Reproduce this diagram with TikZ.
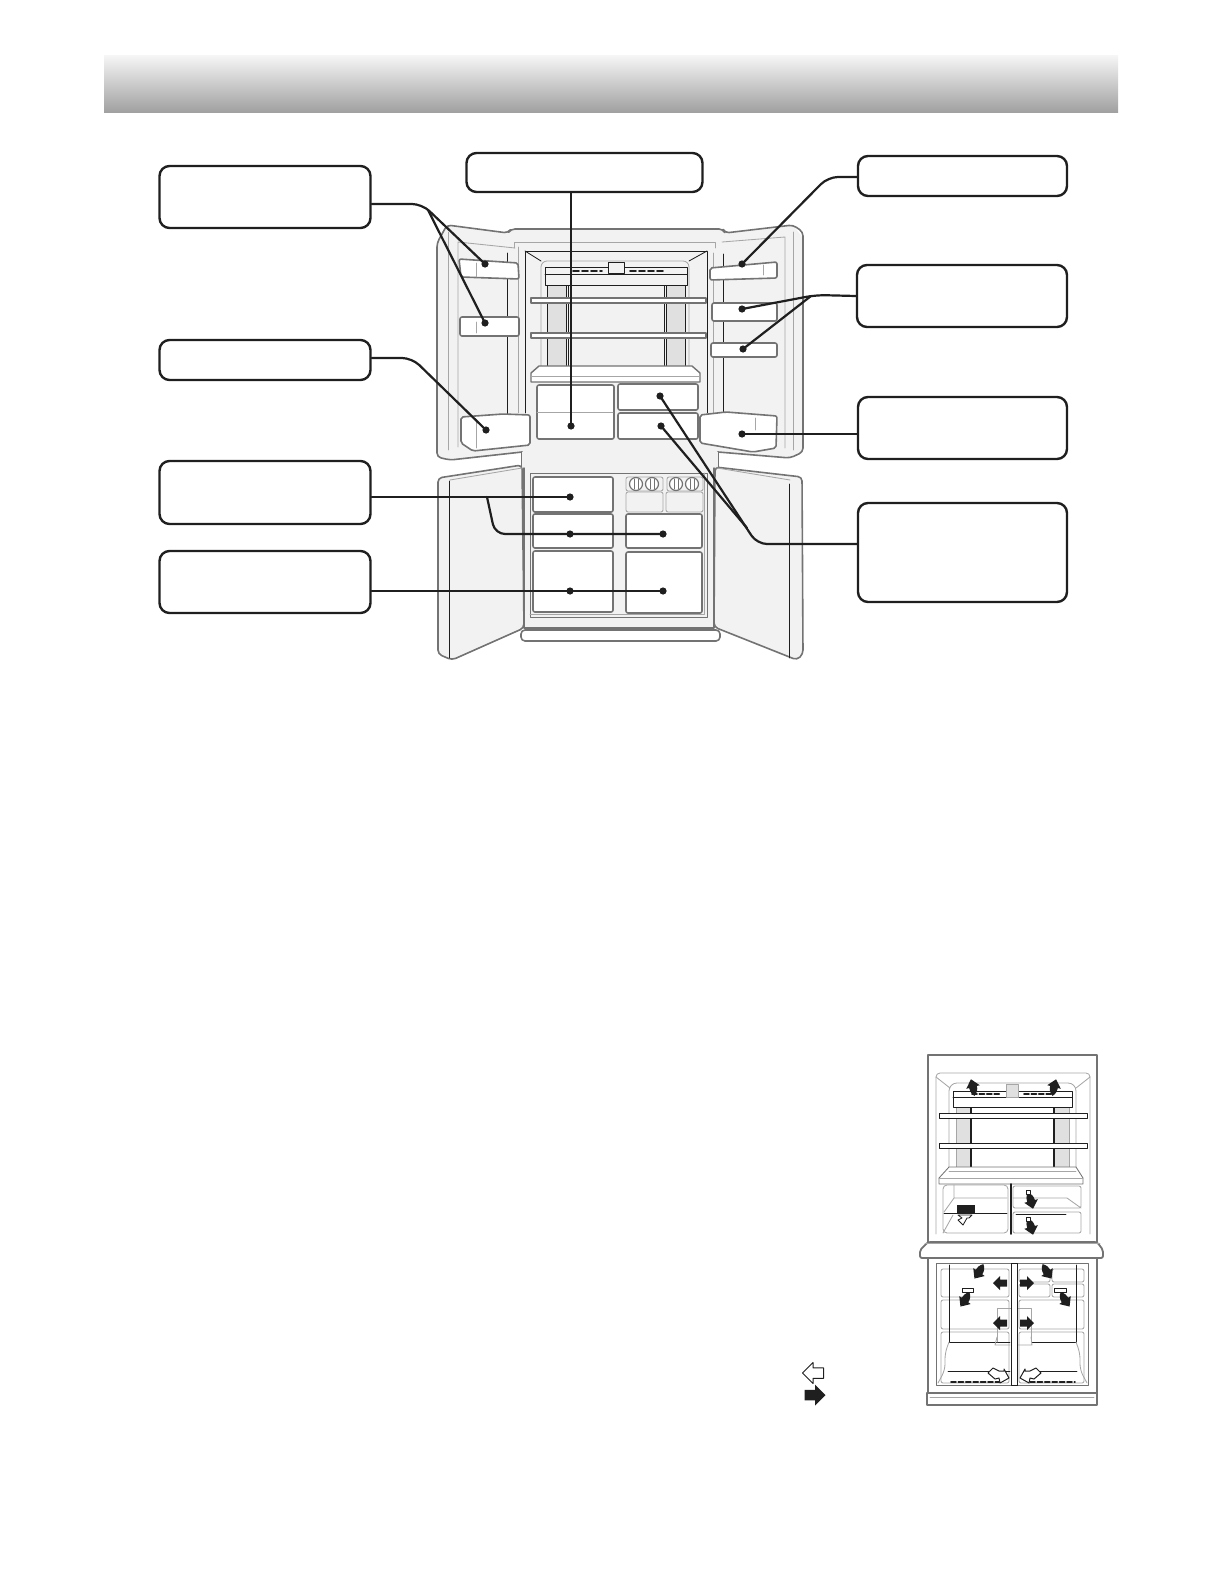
\documentclass[tikz,border=0pt]{standalone}
\definecolor{linegray}{gray}{.45}
\definecolor{bodygray}{gray}{.95}
\definecolor{columngray}{gray}{.88}
\definecolor{inkblack}{gray}{.12}
\tikzset{
	calloutbox/.style={draw=inkblack, line width=1.2pt, rounded corners=5pt, fill=white, minimum width=105.5pt, inner sep=0pt},
	leader/.style={draw=inkblack, line width=1.1pt, rounded corners=5pt},
	shell/.style={draw=linegray, line width=.8pt, fill=bodygray, rounded corners=2pt},
	bin/.style={draw=linegray, line width=.8pt, fill=white, rounded corners=1pt},
	thin part/.style={draw=inkblack, line width=.42pt},
	faint part/.style={draw=gray!70, line width=.42pt},
	airflow/.pic={\path[pic actions] (-7,-3.5)--(0,-3.5)--(0,-7)--(7,0)--(0,7)--(0,3.5)--(-7,3.5)--cycle;},
	airbend/.pic={\path[pic actions] (-9,-1) .. controls (-5,-4) and (-3,-4) .. (0,-4)--(0,-7)--(8,0)--(0,7)--(0,4) .. controls (-4,4) and (-7,2) .. (-9,-1)--cycle;},
	airturn/.pic={\path[pic actions] (-11,-2)--(-6,-7)--(0,-4)--(5,-4)--(5,-6)--(10,3)--(1,8)--(0,3)--(-4,4)--cycle;}
}
\begin{document}
\begin{tikzpicture}[x=.5pt, y=-.5pt, line join=round, line cap=round]
	\useasboundingbox (0,0) rectangle (1224,1584);
	% title bar
	\shade[top color=gray!8, middle color=gray!32, bottom color=gray!75] (104,56) rectangle (1118,113);
	
	% upper doors and cabinet
	\fill[bodygray] (437,457)--(437,243)--(447,225)--(508,233)--(511,229)--(723,229)--(725,233)--(793,225)--(803,238)--(803,452)--(790,458)--(718,452)--(718,470)--(522,470)--(522,452)--(450,460)--cycle;
	\draw[shell, fill=none] (522,452)--(450,460)--(437,457)--(437,243)--(447,225)--(508,233)--(511,229)--(723,229)--(725,233)--(793,225)--(803,232)--(803,452)--(790,458)--(718,452);
	\draw[faint part] (458,447)--(458,242)--(515,248) (785,448)--(785,237)--(722,242);
	\draw[faint part] (448,232)--(448,450) (793,232)--(793,450) (514,248)--(514,242)--(715,242)--(715,248);
	\draw[faint part] (518,247)--(518,413) (713,253)--(713,420);
	\draw[thin part] (507,253)--(507,417) (723,254)--(723,418);
	\draw[thin part] (525,413)--(525,251)--(707,251)--(707,413);
	\draw[faint part, rounded corners=3pt] (541,366)--(541,261)--(689,261)--(689,366);
	\draw[thin part] (525,251)--(541,261) (707,251)--(689,261);
	\draw[draw=linegray, line width=.6pt] (522,452)--(522,470) (718,452)--(718,470);
	% columns, top unit and shelves
	\draw[thin part, fill=columngray] (547,285) rectangle (566,366);
	\draw[thin part, fill=columngray] (666,285) rectangle (685,366);
	\draw[thin part] (568,285)--(568,366)--(664,366)--(664,285);
	\draw[thin part, fill=bodygray] (545,267) rectangle (687,285);
	\draw[thin part] (545,274)--(687,274);
	\draw[thin part, fill=bodygray] (608,262) rectangle (624,273);
	\draw[inkblack, line width=.9pt, dash pattern=on 3pt off 1.5pt] (573,271)--(602,271) (630,271)--(664,271);
	\foreach \y in {298,333}\draw[draw=linegray, line width=.7pt, fill=white] (531,\y) rectangle (706,\y+5);
	\draw[draw=linegray, line width=.7pt, fill=white] (539,366)--(692,366)--(700,373)--(700,382)--(531,382)--(531,373)--cycle;
	\draw[faint part] (531,376)--(700,376);
	% chilled drawers
	\draw[bin] (537,385) rectangle (614,439);
	\draw[faint part] (537,412)--(613,412);
	\draw[bin] (618,384) rectangle (698,410);
	\draw[bin] (618,413) rectangle (698,439);
	% door bins
	\draw[bin] (459,259)--(518,263)--(519,279)--(461,277)--cycle;
	\draw[bin] (460,317) rectangle (519,336);
	\draw[bin] (461,417)--(503,414)--(530,415)--(530,445)--(473,451)--(461,443)--cycle;
	\draw[bin] (710,268)--(777,262)--(777,278)--(710,280)--cycle;
	\draw[bin] (712,303) rectangle (777,321);
	\draw[bin] (711,343) rectangle (777,357);
	\draw[bin] (700,415)--(726,412)--(777,416)--(776,448)--(753,452)--(700,443)--cycle;
	\draw[faint part] (476,263)--(476,277) (476,322)--(476,333) (476,420)--(476,448) (763,265)--(763,275) (755,418)--(755,430);
	
	% lower doors and cabinet
	\fill[bodygray] (522,452) rectangle (718,628);
	\draw[draw=linegray, line width=.7pt] (524,468)--(524,628)--(714,628)--(714,468);
	\draw[shell, fill=white] (521,630)--(720,630)--(720,641)--(521,641)--cycle;
	\draw[shell] (438,478)--(522,465)--(524,628)--(452,660)--(438,654)--cycle;
	\draw[shell] (715,467)--(802,477)--(803,654)--(797,660)--(714,627)--cycle;
	\draw[thin part] (449,481)--(449,658) (789,484)--(789,658);
	\draw[faint part] (450,480)--(522,468) (717,468)--(790,480);
	\draw[thin part, draw=linegray] (530,473)--(530,617)--(707,617)--(707,473)--cycle;
	\draw[faint part] (704,473)--(704,614)--(530,614);
	\foreach \a/\b/\c/\d in {533/477/613/512,533/514/613/548,533/551/613/612,626/514/702/548,626/552/702/613}\draw[bin] (\a,\b) rectangle (\c,\d);
	\foreach \a/\b/\c/\d in {626/492/663/512,666/492/703/512,626/477/663/491,667/477/703/491}\draw[faint part, fill=bodygray, rounded corners=1pt] (\a,\b) rectangle (\c,\d);
	\foreach \x in {636,652,676,692}{
		\draw[linegray, line width=.6pt, fill=white] (\x,484) circle (6.5);
		\draw[linegray, line width=.4pt] (\x-2,479)--(\x-2,489) (\x+2,479)--(\x+2,489);
	}
	
	% label boxes
	\node[calloutbox, minimum height=31pt] (boxShelf) at (265,197) {};
	\node[calloutbox, minimum height=20pt] (boxBin) at (265,360) {};
	\node[calloutbox, minimum height=31.5pt] (boxUpper) at (265,492.5) {};
	\node[calloutbox, minimum height=31pt] (boxLower) at (265,582) {};
	\node[calloutbox, minimum height=19.5pt, minimum width=118pt] (boxChill) at (584.5,172.5) {};
	\node[calloutbox, minimum height=20pt, minimum width=104.5pt] (boxTop) at (962.5,176) {};
	\node[calloutbox, minimum height=31pt, minimum width=105pt] (boxMid) at (962,296) {};
	\node[calloutbox, minimum height=31pt, minimum width=104.5pt] (boxBottle) at (962.5,428) {};
	\node[calloutbox, minimum height=49.5pt, minimum width=104.5pt] (boxDrawer) at (962.5,552.5) {};
	
	% points on the fridge
	\coordinate (shelfA) at (485,264);
	\coordinate (shelfB) at (485,323);
	\coordinate (binL) at (486,430);
	\coordinate (chillL) at (571,426);
	\coordinate (topR) at (742,264);
	\coordinate (midR) at (742,309);
	\coordinate (lowR) at (743,349);
	\coordinate (bottleR) at (742,434);
	\coordinate (chillA) at (660,396);
	\coordinate (chillB) at (661,426);
	\coordinate (frzA) at (570,497);
	\coordinate (frzB) at (570,534);
	\coordinate (frzC) at (663,534);
	\coordinate (frzD) at (570,591);
	\coordinate (frzE) at (663,591);
	\coordinate (forkShelf) at (428,210);
	\coordinate (forkMid) at (811,296);
	\coordinate (forkDrawer) at (747,528);
	\coordinate (forkUpper) at (487,497);
	
	% leaders
	\draw[leader] (boxShelf.east |- 0,204)--(422,204)--(shelfA);
	\draw[leader] (forkShelf)--(shelfB);
	\draw[leader] (boxBin.east |- 0,358)--(412,358)--(binL);
	\draw[leader] (boxUpper.east |- frzA)--(frzA);
	\draw[leader] (forkUpper)--(495,534)--(frzC);
	\draw[leader] (boxLower.east |- frzD)--(frzE);
	\draw[leader] (boxChill.south -| chillL)--(chillL);
	\draw[leader] (boxTop.west |- 0,177)--(828,177)--(topR);
	\draw[leader] (boxMid.west |- forkMid)--(816,295)--(midR);
	\draw[leader] (forkMid)--(lowR);
	\draw[leader] (boxBottle.west |- bottleR)--(bottleR);
	\draw[leader] (boxDrawer.west |- 0,544)--(757,544)--(chillA);
	\draw[leader] (forkDrawer)--(chillB);
	\foreach \p in {shelfA,shelfB,binL,chillL,topR,midR,lowR,bottleR,chillA,chillB,frzA,frzB,frzC,frzD,frzE}\fill[inkblack] (\p) circle (3.6);
	
	% air flow view, upper part
	\draw[draw=linegray, line width=.9pt] (928,1242)--(928,1055)--(1097,1055)--(1097,1242);
	\draw[faint part, rounded corners=2pt] (936,1234)--(936,1073)--(1090,1073)--(1090,1234);
	\draw[faint part, rounded corners=4pt] (949,1167)--(949,1083)--(1076,1083)--(1076,1167);
	\draw[faint part] (936,1077)--(950,1088) (1090,1077)--(1076,1088);
	\draw[faint part, fill=columngray] (956,1107) rectangle (971,1167);
	\draw[faint part, fill=columngray] (1054,1107) rectangle (1069,1167);
	\draw[inkblack, line width=.7pt] (971,1107)--(971,1167) (1054,1107)--(1054,1167);
	\draw[thin part] (971,1167)--(1054,1167);
	\draw[thin part, fill=white] (953,1091) rectangle (1072,1107);
	\draw[thin part] (953,1097)--(1072,1097);
	\draw[faint part, fill=columngray] (1006,1084) rectangle (1018,1097);
	\draw[inkblack, line width=.9pt, dash pattern=on 2.5pt off 1.2pt] (972,1094)--(1001,1094) (1024,1094)--(1053,1094);
	\foreach \y in {1113,1143}\draw[thin part, fill=white] (939,\y) rectangle (1087,\y+5);
	\draw[thin part, draw=linegray, fill=white] (949,1167)--(1076,1167)--(1083,1178)--(1083,1184)--(939,1184)--(939,1178)--cycle;
	\draw[faint part] (939,1178)--(1083,1178) (949,1171)--(1076,1171);
	\draw[faint part, rounded corners=2pt] (943,1185)--(1008,1185)--(1008,1233)--(943,1233)--cycle;
	\draw[faint part] (954,1185)--(954,1198)--(944,1212) (954,1198)--(1007,1198) (953,1215)--(943,1233);
	\draw[faint part, rounded corners=1pt] (1013,1186) rectangle (1081,1208);
	\draw[faint part, rounded corners=1pt] (1013,1212) rectangle (1081,1233);
	\draw[faint part] (1013,1198)--(1067,1198)--(1081,1208);
	\draw[thin part] (944,1213)--(1007,1213) (1016,1214)--(1066,1214);
	\draw[inkblack, line width=.9pt] (1011,1184)--(1011,1234);
	\fill[inkblack] (957,1205) rectangle (975,1213);
	\draw[thin part, fill=white] (958,1215)--(972,1215)--(969,1218)--(967,1218)--(963,1225)--(958,1220)--(962,1218)--cycle;
	
	% air flow view, counter and lower part
	\draw[draw=linegray, line width=.9pt, fill=white, rounded corners=1pt] (928,1242)--(1097,1242)--(1103,1250)--(1103,1258)--(920,1258)--(920,1250)--cycle;
	\draw[faint part] (925,1243)--(1100,1243);
	\draw[draw=linegray, line width=.9pt] (928,1258)--(928,1393) (1097,1258)--(1097,1393);
	\draw[draw=linegray, line width=.9pt, fill=white] (927,1393) rectangle (1097,1405);
	\draw[faint part] (930,1397)--(1094,1397);
	\draw[thin part, draw=linegray] (936,1263) rectangle (1088,1385);
	\foreach \a/\b/\c/\d in {941/1269/1009/1297,941/1300/1009/1329,941/1332/1009/1383,1019/1300/1084/1329,1019/1332/1084/1383,1019/1269/1050/1282,1052/1269/1084/1282,1019/1284/1050/1297,1052/1284/1084/1297}\draw[faint part, rounded corners=1pt] (\a,\b) rectangle (\c,\d);
	\draw[thin part] (949,1265)--(949,1342)--(1010,1342) (1076,1265)--(1076,1342)--(1032,1342);
	\draw[thin part] (948,1371)--(1010,1371) (1031,1371)--(1077,1371);
	\draw[faint part, rounded corners=3pt] (949,1342)--(945,1353)--(945,1370)--(938,1383) (1076,1342)--(1080,1353)--(1080,1370)--(1087,1383);
	\draw[faint part] (997,1342)--(997,1308)--(1031,1308)--(1031,1342);
	\draw[faint part] (997,1337)--(995,1345)--(1010,1345) (1031,1337)--(1032,1345)--(1018,1345);
	\draw[thin part, fill=white] (1011,1263) rectangle (1017,1385);
	\draw[inkblack, line width=.9pt, dash pattern=on 2.5pt off 1.2pt] (951,1382)--(1000,1382) (1030,1382)--(1075,1382);
	\draw[thin part, fill=white] (962,1288) rectangle (973,1292) (1054,1288) rectangle (1066,1292);
	
	% air flow arrows
	\foreach \x/\y/\g/\m in {973/1087/105/1,1054/1087/75/-1,1031/1201/-75/-1,1031/1227/-75/-1,979/1272/-125/-1,1047/1272/-55/1,965/1300/-125/-1,1065/1300/-55/1}\pic[fill=inkblack, rotate=\g, yscale=\m] at (\x,\y) {airbend};
	\foreach \x/\y/\g in {1000/1283/180,1027/1283/0,1000/1323/180,1027/1323/0}\pic[fill=inkblack, rotate=\g] at (\x,\y) {airflow};
	\foreach \x/\m in {999/1,1030/-1}\pic[fill=white, draw=inkblack, line width=.5pt, xscale=\m] at (\x,1375) {airturn};
	\draw[thin part, fill=white] (1026,1190) rectangle (1030,1194) (1026,1217) rectangle (1030,1221);
	% legend arrows
	\pic[fill=white, draw=inkblack, line width=.5pt, rotate=180, scale=1.5] at (813,1373) {airflow};
	\pic[fill=inkblack, scale=1.5] at (815,1395) {airflow};
\end{tikzpicture}
\end{document}
